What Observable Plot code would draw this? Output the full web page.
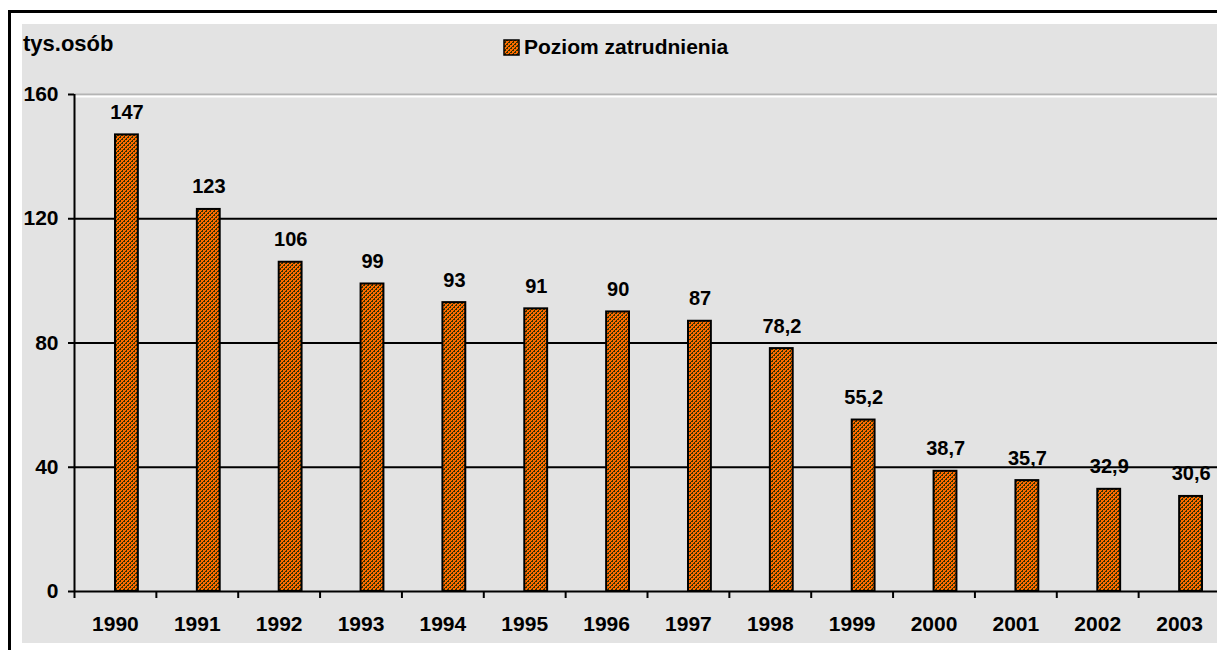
<!DOCTYPE html>
<html>
<head>
<meta charset="utf-8">
<script src="https://cdn.jsdelivr.net/npm/d3@7"></script>
<script src="https://cdn.jsdelivr.net/npm/@observablehq/plot@0.6"></script>
<style>
  html, body { margin: 0; padding: 0; background: #ffffff; overflow: hidden; }
  #wrap { position: relative; width: 1217px; height: 650px; overflow: hidden;
          font-family: "Liberation Sans", Arial, sans-serif; font-weight: bold; color: #000; }
  #border { position: absolute; left: 8px; top: 10px; right: -10px; bottom: -10px;
            border-top: 3px solid #000; border-left: 3px solid #000; }
  #panel { position: absolute; left: 22px; top: 24px; width: 1195px; height: 619px; background: #e3e3e3; }
  #unit { position: absolute; left: 23px; top: 31px; font-size: 22px; }
  #legend { position: absolute; left: 503px; top: 35px; font-size: 21px; display: flex; align-items: center; }
  #legend svg { margin-right: 4px; }
  #chart { position: absolute; left: 0; top: 0; width: 1225px; }
  #chart svg { max-width: none !important; }
</style>
</head>
<body>
<div id="wrap">
  <div id="border"></div>
  <div id="panel"></div>
  <div id="chart"></div>
  <div id="unit">tys.osób</div>
  <div id="legend"></div>
</div>
<script>
const years = ["1990","1991","1992","1993","1994","1995","1996","1997","1998","1999","2000","2001","2002","2003"];
const values = [147, 123, 106, 99, 93, 91, 90, 87, 78.2, 55.2, 38.7, 35.7, 32.9, 30.6];
const yTicks = [0, 40, 80, 120, 160];
const gridLines = [40, 80, 120];
const seriesName = "Poziom zatrudnienia";

const data = years.map((year, i) => ({year, value: values[i]}));
const fmt = v => String(v).replace(".", ",");

const W = 1225, H = 650, mL = 74, mR = 5, mT = 94, mB = 59;
const bw = (W - mL - mR) / years.length;

function addPattern(svg, id) {
  const defs = d3.select(svg).insert("defs", ":first-child");
  const p = defs.append("pattern").attr("id", id).attr("patternUnits", "userSpaceOnUse")
    .attr("width", 4).attr("height", 4);
  p.append("rect").attr("width", 4).attr("height", 4).attr("fill", "#ff6a00");
  for (let x = 0; x < 4; x++) for (let y = 0; y < 4; y++) {
    const s = (x + y) % 4;
    if (s === 0 || (s === 1 && x % 2 === 0)) p.append("rect").attr("x", x).attr("y", y).attr("width", 1).attr("height", 1)
      .attr("fill", "#333300").attr("shape-rendering", "crispEdges");
  }
}

const chart = Plot.plot({
  width: W, height: H,
  marginTop: mT, marginBottom: mB, marginLeft: mL, marginRight: mR,
  style: {background: "transparent", fontFamily: "'Liberation Sans', Arial, sans-serif",
          fontWeight: "bold", fontSize: "21px", color: "#000", overflow: "hidden", maxWidth: "none"},
  x: {domain: years, padding: 0, round: false, label: null},
  y: {domain: [0, 160], label: null},
  marks: [
    Plot.ruleY([160], {stroke: "#b4b4b4", strokeWidth: 2}),
    Plot.ruleY([160], {stroke: "#ffffff", strokeWidth: 2, dy: 2}),
    Plot.ruleY(gridLines, {stroke: "#000", strokeWidth: 2}),
    Plot.barY(data, {x: "year", y: "value", fill: "url(#pz)", stroke: "#000", strokeWidth: 2,
                     insetLeft: 41, insetRight: 18}),
    Plot.text(data, {x: "year", y: "value", text: d => fmt(d.value), dx: 11.6, dy: -16,
                     lineAnchor: "bottom", fontSize: 20, fontWeight: "bold", fill: "#000"}),
    Plot.axisY({ticks: yTicks, tickSize: 6, tickPadding: 10, strokeWidth: 2, label: null,
                fontSize: 21, fontWeight: "bold"}),
    Plot.axisX({tickSize: 7, text: null, dx: -bw / 2, strokeWidth: 2, label: null}),
    Plot.axisX({tickSize: 0, tickPadding: 25, label: null, fontSize: 21, fontWeight: "bold"}),
    Plot.ruleY([0], {stroke: "#000", strokeWidth: 2}),
    Plot.ruleX([years[0]], {y1: 0, y2: 160, dx: -bw / 2, stroke: "#000", strokeWidth: 2})
  ]
});
addPattern(chart, "pz");
document.getElementById("chart").appendChild(chart);

// legend
const leg = document.getElementById("legend");
const sw = d3.create("svg").attr("width", 17).attr("height", 17);
addPattern(sw.node(), "pz2");
sw.append("rect").attr("x", 1).attr("y", 1).attr("width", 15).attr("height", 15)
  .attr("fill", "url(#pz2)").attr("stroke", "#000").attr("stroke-width", 1.5);
leg.appendChild(sw.node());
const lt = document.createElement("span");
lt.textContent = seriesName;
leg.appendChild(lt);
</script>
</body>
</html>
